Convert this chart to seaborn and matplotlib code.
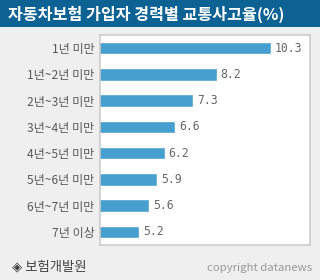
import matplotlib
matplotlib.use("Agg")
import matplotlib.pyplot as plt
import seaborn as sns
import pandas as pd

categories = ["1년 미만", "1년~2년 미만", "2년~3년 미만", "3년~4년 미만",
              "4년~5년 미만", "5년~6년 미만", "6년~7년 미만", "7년 이상"]
values = [10.3, 8.2, 7.3, 6.6, 6.2, 5.9, 5.6, 5.2]
title = "자동차보험 가입자 경력별 교통사고율(%)"
source = "◈ 보험개발원"
credit = "copyright datanews"

sns.set_theme(style="white")
plt.rcParams['font.family'] = ['Noto Sans CJK KR', 'DejaVu Sans']

df = pd.DataFrame({"cat": categories, "val": values})

fig = plt.figure(figsize=(3.2, 2.8), dpi=100, facecolor="#efefef")
# title bar
fig.patches.append(plt.Rectangle((0, 1 - 27/280), 1, 27/280, transform=fig.transFigure,
                                 facecolor="#0d6294", edgecolor="none", zorder=0))
fig.text(8/320, 1 - 14/280, title, color="white", fontsize=11.6, fontweight="bold",
         va="center", ha="left")

ax = fig.add_axes([100/320, 1 - 245/280, 210/320, 210/280])
ax.set_facecolor("white")
sns.barplot(data=df, y="cat", x="val", orient="h", color="#469fcf", saturation=1,
            width=0.47, ax=ax)
ax.set_xlim(3.7, 11.8)
ax.set_ylim(7.5, -0.5)
ax.set_xlabel("")
ax.set_ylabel("")
ax.set_xticks([])
ax.tick_params(axis="y", which="major", length=0, labelsize=8.7, labelcolor="#5a5a5a", pad=4)
ax.set_yticks([i + 0.5 for i in range(7)], minor=True)
ax.tick_params(axis="y", which="minor", length=4, direction="in", color="#999999", width=1)
for s in ax.spines.values():
    s.set_color("#cccccc")
    s.set_linewidth(1.2)
for i, v in enumerate(values):
    ax.text(v + 0.15, i, f"{v}", va="center", ha="left", fontsize=8.3,
            color="#666666", family=["DejaVu Sans Mono"])

fig.text(12/320, 1 - 266/280, source, color="#444444", fontsize=9.6, va="center", ha="left")
fig.text(312/320, 1 - 268/280, credit, color="#999999", fontsize=8.2, va="center", ha="right")

fig.savefig("out.png", dpi=100, facecolor=fig.get_facecolor())
